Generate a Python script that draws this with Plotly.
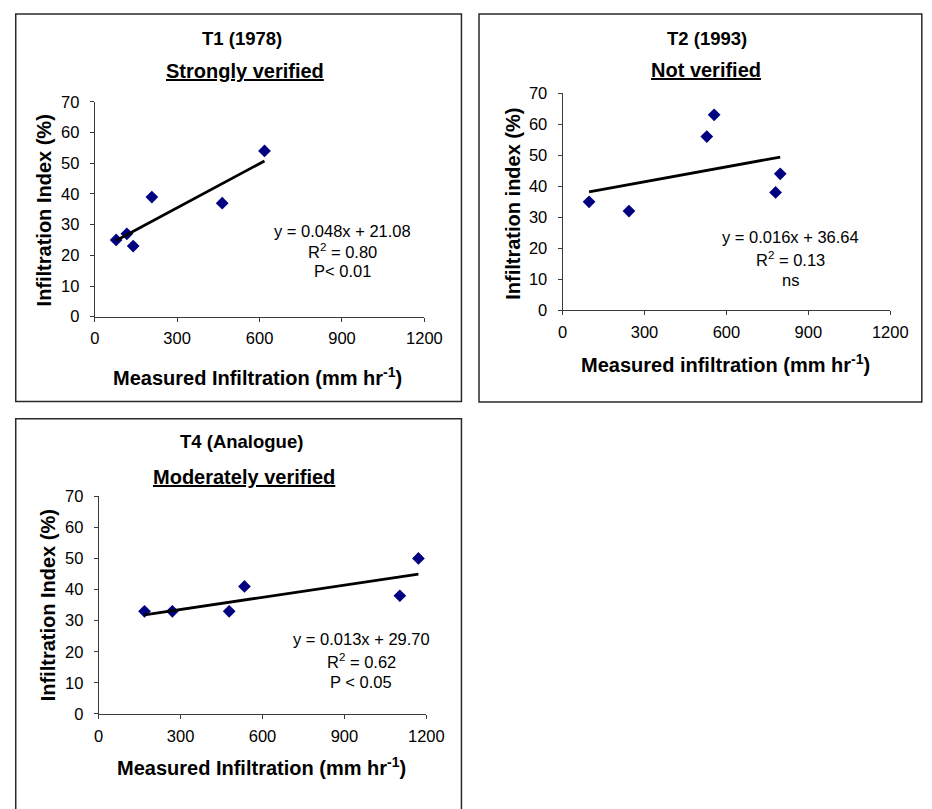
import numpy as np
import plotly.graph_objects as go

# ---- data -------------------------------------------------------------
t1_measured = [78, 117, 140, 208, 464, 618]
t1_index = [25, 27, 23, 39, 37, 54]
t1_slope, t1_intercept = 0.048, 21.08

t2_measured = [97, 243, 528, 555, 780, 797]
t2_index = [35, 32, 56, 63, 38, 44]
t2_slope, t2_intercept = 0.016, 36.64

t4_measured = [168, 270, 478, 534, 1103, 1171]
t4_index = [33, 33, 33, 41, 38, 50]
t4_slope, t4_intercept = 0.013, 29.70

x_ticks = [0, 300, 600, 900, 1200]
y_ticks = [0, 10, 20, 30, 40, 50, 60, 70]

# ---- page geometry ----------------------------------------------------
W, H = 932, 809
FONT = "Liberation Sans, Arial, sans-serif"
NAVY = "#000080"
AXIS = "#3a3a3a"


def px(x):
    return x / W


def py(y):
    return 1 - y / H


fig = go.Figure()

panels = [
    dict(ax="", x=t1_measured, y=t1_index, m=t1_slope, b=t1_intercept,
         plot=(92, 430, 95, 314.7),
         frame=(11, 468, 5, 401.5),
         title=("T1 (1978)", 243, 30),
         sub=("Strongly verified", 246, 63),
         ytitle=("Infiltration Index (%)", 40, 206),
         xtitle=("Measured Infiltration (mm hr<sup>-1</sup>)", 259, 376),
         eq=(["y = 0.048x + 21.08", "R<sup>2</sup> = 0.80", "P< 0.01"],
             346, [227, 248, 268])),
    dict(ax="2", x=t2_measured, y=t2_index, m=t2_slope, b=t2_intercept,
         plot=(571.7, 907.7, 86, 308.3),
         frame=(486, 940, 5, 402),
         title=("T2 (1993)", 720, 30),
         sub=("Not verified", 719, 62),
         ytitle=("Infiltration index (%)", 520, 199),
         xtitle=("Measured infiltration (mm hr<sup>-1</sup>)", 739, 363),
         eq=(["y = 0.016x + 36.64", "R<sup>2</sup> = 0.13", "ns"],
             805.5, [233, 256, 277])),
    dict(ax="3", x=t4_measured, y=t4_index, m=t4_slope, b=t4_intercept,
         plot=(96, 432, 498.3, 721),
         frame=(11, 468, 419, 830),
         title=("T4 (Analogue)", 242.5, 442),
         sub=("Moderately verified", 245, 479),
         ytitle=("Infiltration Index (%)", 45, 610),
         xtitle=("Measured Infiltration (mm hr<sup>-1</sup>)", 263, 775),
         eq=(["y = 0.013x + 29.70", "R<sup>2</sup> = 0.62", "P < 0.05"],
             365.5, [644, 667, 688])),
]

annotations = []
shapes = []

for p in panels:
    xa, ya = "x" + p["ax"], "y" + p["ax"]
    xs = np.array(p["x"], dtype=float)

    # measured points
    fig.add_trace(go.Scatter(
        x=p["x"], y=p["y"], mode="markers", xaxis=xa, yaxis=ya,
        marker=dict(symbol="diamond", size=9.8, color=NAVY,
                    line=dict(width=0)),
        showlegend=False, cliponaxis=False))

    # linear trend from the fitted equation
    fx = np.array([xs.min(), xs.max()])
    fig.add_trace(go.Scatter(
        x=fx, y=p["m"] * fx + p["b"], mode="lines", xaxis=xa, yaxis=ya,
        line=dict(color="black", width=2.8), showlegend=False))

    x0, x1, y0, y1 = p["plot"]
    axis_common = dict(showgrid=False, zeroline=False, showline=True,
                       linecolor=AXIS, linewidth=1, ticks="outside",
                       ticklen=4, tickcolor=AXIS, tickwidth=1,
                       tickfont=dict(family=FONT, size=16.5, color="black"))
    fig.update_layout(**{
        "xaxis" + p["ax"]: dict(domain=[px(x0), px(x1)], anchor=ya,
                                range=[0, 1200], tickvals=x_ticks,
                                ticklabelstandoff=3, **axis_common),
        "yaxis" + p["ax"]: dict(domain=[py(y1), py(y0)], anchor=xa,
                                range=[0, 70], tickvals=y_ticks,
                                ticklabelstandoff=7, **axis_common),
    })

    # outer chart frame
    fx0, fx1, fy0, fy1 = p["frame"]
    shapes.append(dict(type="rect", xref="paper", yref="paper",
                       x0=px(fx0), x1=px(fx1), y0=py(fy1), y1=py(fy0),
                       line=dict(color="#2a2a2a", width=1.5),
                       fillcolor="rgba(0,0,0,0)"))

    def note(text, x, y, size, bold=False, angle=0):
        annotations.append(dict(
            text=f"<b>{text}</b>" if bold else text,
            xref="paper", yref="paper", x=px(x), y=py(y),
            xanchor="center", yanchor="middle", showarrow=False,
            textangle=angle,
            font=dict(family=FONT, size=size, color="black")))

    note(p["title"][0], p["title"][1], p["title"][2], 18.5, bold=True)
    note(f"<u>{p['sub'][0]}</u>", p["sub"][1], p["sub"][2], 20, bold=True)
    note(p["ytitle"][0], p["ytitle"][1], p["ytitle"][2], 20, bold=True,
         angle=-90)
    note(p["xtitle"][0], p["xtitle"][1], p["xtitle"][2], 20, bold=True)
    lines, ex, eys = p["eq"]
    for txt, ey in zip(lines, eys):
        note(txt, ex, ey, 16.5)

fig.update_layout(
    width=W, height=H,
    margin=dict(l=0, r=0, t=0, b=0),
    paper_bgcolor="white", plot_bgcolor="white",
    annotations=annotations, shapes=shapes,
    showlegend=False,
)

fig.write_html("out.html")
